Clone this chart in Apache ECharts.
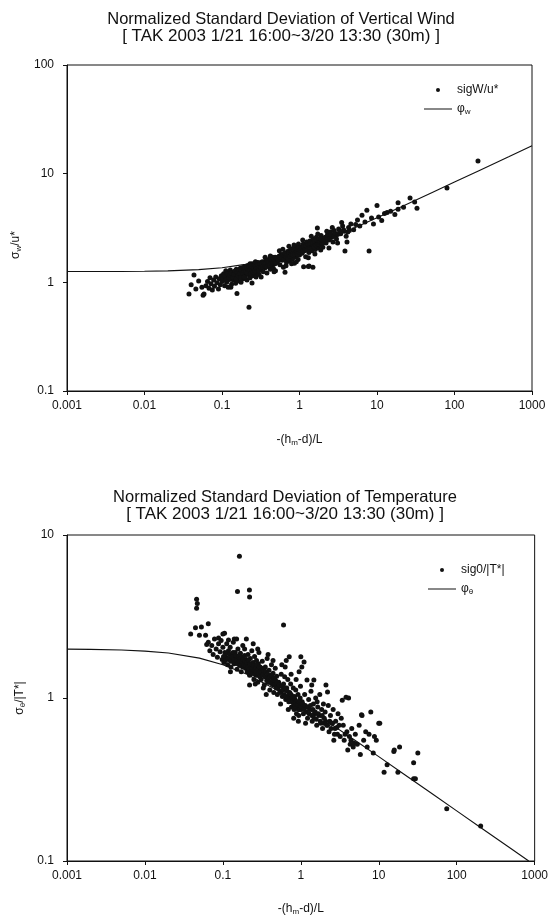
<!DOCTYPE html>
<html>
<head>
<meta charset="utf-8">
<script src="https://cdn.jsdelivr.net/npm/echarts@6/dist/echarts.min.js"></script>
<style>
html,body{margin:0;padding:0;background:#fff;}
#c{width:551px;height:919px;}
</style>
</head>
<body>
<div id="c"></div>
<script>
// ---- data ----
const xTicks = [0.001, 0.01, 0.1, 1, 10, 100, 1000];

// phi_w curve (top) sampled along x
const phiWX = [0.001,0.002,0.005,0.01,0.02,0.05,0.1,0.2,0.5,1,2,5,10,20,50,100,200,500,1000];
const phiWY = [1.26,1.26,1.26,1.265,1.275,1.31,1.364,1.462,1.697,1.984,2.391,3.15,3.927,4.921,6.656,8.377,10.55,14.31,18.03];

// phi_theta curve (bottom)
const phiTX = [0.001,0.002,0.005,0.01,0.02,0.05,0.1,0.2,0.5,1,2,5,10,20,50,100,200,500,840];
const phiTY = [1.994,1.988,1.969,1.94,1.887,1.757,1.601,1.403,1.116,0.913,0.737,0.549,0.437,0.347,0.256,0.203,0.161,0.119,0.100];

// sigW/u* scatter (top)
const sigW = [
[0.0375,0.78],[0.0435,1.17],[0.046,0.87],[0.0586,0.78],[0.05,1.03],[0.04,0.95],[0.055,0.9],[0.057,0.76],
[0.062,0.93],[0.065,1.02],[0.068,0.88],[0.07,1.1],[0.072,0.97],[0.075,0.85],[0.078,1.05],[0.08,0.92],
[0.083,1.12],[0.086,0.99],[0.09,0.87],[0.092,1.08],[0.095,0.95],[0.098,1.15],[0.1,1.02],
[0.105,1.2],[0.108,0.93],[0.11,1.08],[0.112,1.28],[0.115,1.0],[0.118,1.15],[0.12,0.9],[0.122,1.22],
[0.125,1.06],[0.128,1.3],[0.13,1.12],[0.133,0.96],[0.136,1.18],[0.14,1.05],[0.143,1.25],[0.146,1.1],
[0.15,0.98],[0.153,1.32],[0.156,1.16],[0.16,1.03],[0.164,1.22],[0.168,1.12],[0.172,1.35],[0.176,1.0],
[0.18,1.26],[0.184,1.15],[0.188,1.08],[0.192,1.38],[0.196,1.2],[0.2,1.12],[0.156,0.79],[0.13,0.9],
[0.244,0.985],[0.223,0.59],
[0.205,1.3],[0.21,1.05],[0.215,1.42],[0.22,1.18],[0.225,1.25],[0.23,1.1],[0.235,1.36],[0.24,1.22],
[0.245,1.48],[0.25,1.15],[0.255,1.3],[0.26,1.4],[0.265,1.2],[0.27,1.33],[0.275,1.12],[0.28,1.45],
[0.285,1.27],[0.29,1.52],[0.295,1.35],[0.3,1.18],[0.31,1.42],[0.32,1.3],[0.33,1.55],[0.34,1.25],
[0.35,1.46],[0.36,1.36],[0.37,1.6],[0.38,1.22],[0.39,1.5],[0.4,1.4],[0.41,1.65],[0.42,1.32],
[0.43,1.55],[0.44,1.45],[0.45,1.7],[0.46,1.35],[0.47,1.58],[0.48,1.48],[0.49,1.28],[0.5,1.62],
[0.32,1.12],[0.36,1.7],[0.27,1.55],[0.23,1.48],[0.42,1.75],[0.47,1.25],
[0.52,1.55],[0.54,1.72],[0.56,1.45],[0.58,1.8],[0.6,1.6],[0.62,1.38],[0.64,1.85],[0.66,1.66],
[0.68,1.52],[0.7,1.92],[0.72,1.7],[0.74,1.58],[0.76,1.98],[0.78,1.75],[0.8,1.62],[0.82,2.05],
[0.84,1.82],[0.86,1.5],[0.88,1.9],[0.9,1.72],[0.92,2.12],[0.94,1.85],[0.96,1.62],[0.98,2.0],
[1.0,1.78],[0.55,1.95],[0.61,2.02],[0.67,1.42],[0.73,2.15],[0.79,1.48],[0.85,2.2],[0.91,1.55],
[0.97,2.25],[0.63,1.7],[0.71,1.8],[0.83,1.68],[0.95,1.95],[0.65,1.24],
[1.04,2.1],[1.08,1.85],[1.12,2.25],[1.16,1.95],[1.2,1.72],[1.24,2.35],[1.28,2.05],[1.32,1.88],
[1.36,2.4],[1.4,2.15],[1.45,1.95],[1.5,2.5],[1.55,2.22],[1.6,2.0],[1.65,2.6],[1.7,2.3],
[1.75,2.08],[1.8,2.45],[1.85,2.2],[1.9,2.7],[1.95,2.35],[2.0,2.1],[1.1,2.45],[1.3,1.68],
[1.42,2.65],[1.58,1.82],[1.72,2.78],[1.88,1.98],[1.13,1.39],[1.33,1.41],[1.49,1.38],[1.3,1.4],[1.7,3.16],
[2.1,2.55],[2.2,2.3],[2.3,2.75],[2.4,2.45],[2.5,2.9],[2.6,2.6],[2.7,2.35],[2.8,3.0],[2.9,2.7],
[3.0,2.5],[3.2,3.1],[3.4,2.8],[3.6,3.3],[3.8,2.95],[4.0,2.65],[4.3,3.2],[4.6,3.45],[5.0,3.05],
[2.25,2.95],[2.65,3.2],[3.1,2.3],[3.5,3.55],[4.2,2.9],[3.86,1.94],[4.1,2.35],[2.4,2.07],
[5.3,3.4],[5.6,3.75],[6.0,3.3],[6.4,4.15],[7.0,3.6],[7.4,4.6],[7.9,1.94],[8.5,3.9],[9.0,3.45],
[10,5.1],[10.5,4.0],[11.5,3.7],[12.5,4.3],[13.5,4.4],[15,4.5],[17,4.2],[18.7,5.4],[18.7,4.7],
[22,4.9],[26.7,5.97],[30.6,5.5],[32.8,4.8],[80,7.4],[201,13.1],
// dense core of the band
[0.102,1.1],[0.107,1.15],[0.113,1.05],[0.117,1.2],[0.123,1.1],[0.127,1.17],[0.132,1.22],[0.138,1.12],
[0.142,1.18],[0.148,1.28],[0.152,1.08],[0.158,1.24],[0.162,1.15],[0.166,1.3],[0.17,1.2],[0.174,1.1],
[0.178,1.28],[0.182,1.36],[0.186,1.22],[0.19,1.3],[0.194,1.12],[0.198,1.34],
[0.202,1.25],[0.208,1.38],[0.212,1.22],[0.218,1.32],[0.224,1.4],[0.228,1.3],[0.233,1.2],[0.238,1.42],
[0.243,1.3],[0.248,1.38],[0.253,1.24],[0.258,1.34],[0.263,1.45],[0.268,1.28],[0.273,1.4],[0.278,1.34],
[0.283,1.5],[0.288,1.38],[0.293,1.44],[0.298,1.28],[0.305,1.5],[0.315,1.36],[0.325,1.46],[0.335,1.38],
[0.345,1.52],[0.355,1.42],[0.365,1.5],[0.375,1.4],[0.385,1.58],[0.395,1.45],[0.405,1.52],[0.415,1.44],
[0.425,1.62],[0.435,1.5],[0.445,1.58],[0.455,1.52],[0.465,1.65],[0.475,1.55],[0.485,1.7],[0.495,1.5],
[0.51,1.68],[0.53,1.6],[0.55,1.75],[0.57,1.62],[0.59,1.7],[0.61,1.78],[0.63,1.62],[0.65,1.82],
[0.67,1.72],[0.69,1.8],[0.71,1.65],[0.73,1.85],[0.75,1.75],[0.77,1.88],[0.79,1.8],[0.81,1.92],
[0.83,1.78],[0.85,1.95],[0.87,1.82],[0.89,2.0],[0.91,1.88],[0.93,1.95],[0.95,1.8],[0.97,2.08],[0.99,1.9],
[1.02,1.98],[1.06,2.05],[1.1,1.92],[1.14,2.12],[1.18,2.02],[1.22,2.18],[1.26,1.98],[1.3,2.22],
[1.34,2.1],[1.38,2.28],[1.43,2.05],[1.48,2.3],[1.53,2.12],[1.58,2.38],[1.63,2.2],[1.68,2.45],
[1.73,2.25],[1.78,2.52],[1.83,2.32],[1.9,2.5],[1.97,2.28],
[2.05,2.45],[2.15,2.6],[2.25,2.5],[2.35,2.68],[2.45,2.55],[2.55,2.75],[2.75,2.65],[2.85,2.85],
[3.1,2.75],[3.3,2.95],[3.7,3.05],[4.4,3.0]
];

// sig0/|T*| scatter (bottom)
const sigT = [
[0.163,7.4],[0.154,4.5],[0.219,4.6],[0.22,4.17],[0.046,4.04],[0.047,3.8],[0.046,3.55],[0.6,2.8],
[0.0386,2.47],[0.0445,2.7],[0.053,2.73],[0.065,2.85],[0.05,2.43],[0.06,2.43],[0.105,2.5],[0.1,2.47],
[0.14,2.3],[0.2,2.3],[0.088,2.33],[0.118,2.27],[0.245,2.15],[0.062,2.13],
[0.065,2.2],[0.068,1.95],[0.072,2.1],[0.075,1.85],[0.078,2.3],[0.082,2.0],[0.085,1.78],[0.088,2.15],
[0.092,1.92],[0.095,2.25],[0.098,1.72],[0.1,2.05],
[0.103,1.65],[0.106,1.9],[0.109,1.78],[0.112,2.15],[0.115,1.6],[0.118,1.95],[0.121,1.72],[0.124,2.05],
[0.127,1.55],[0.13,1.85],[0.133,1.68],[0.136,2.2],[0.14,1.62],[0.144,1.9],[0.148,1.75],[0.152,1.5],
[0.156,2.0],[0.16,1.7],[0.164,1.58],[0.168,1.88],[0.172,1.45],[0.176,1.78],[0.18,2.1],[0.185,1.62],
[0.19,1.82],[0.195,1.52],[0.2,1.72],[0.125,1.45],[0.15,2.3],[0.19,2.0],
[0.205,1.45],[0.21,1.85],[0.215,1.6],[0.22,1.38],[0.225,1.75],[0.23,1.52],[0.235,1.95],[0.24,1.42],
[0.245,1.65],[0.25,1.3],[0.255,1.8],[0.26,1.55],[0.265,1.38],[0.27,1.7],[0.275,1.48],[0.28,1.25],
[0.285,1.62],[0.29,1.9],[0.295,1.4],[0.3,1.55],[0.31,1.3],[0.32,1.68],[0.33,1.45],[0.34,1.2],
[0.35,1.55],[0.36,1.35],[0.37,1.75],[0.38,1.25],[0.39,1.48],[0.4,1.12],[0.41,1.38],[0.42,1.6],
[0.43,1.22],[0.44,1.42],[0.45,1.08],[0.46,1.3],[0.47,1.52],[0.48,1.18],[0.49,1.36],[0.5,1.05],
[0.22,1.2],[0.28,2.0],[0.33,1.15],[0.38,1.85],[0.44,1.7],[0.26,1.22],[0.36,1.05],
[0.52,1.25],[0.54,1.1],[0.56,1.4],[0.58,1.02],[0.6,1.22],[0.62,1.35],[0.64,0.98],[0.66,1.15],
[0.68,1.3],[0.7,0.95],[0.72,1.08],[0.74,1.22],[0.76,0.88],[0.78,1.02],[0.8,1.15],[0.82,0.85],
[0.84,0.98],[0.86,1.12],[0.88,0.8],[0.9,0.95],[0.92,1.05],[0.94,0.78],[0.96,0.9],[0.98,1.0],
[1.0,0.85],[0.55,0.92],[0.63,1.55],[0.69,0.85],[0.75,1.4],[0.81,0.75],[0.87,1.3],[0.93,0.72],
[0.99,1.18],[0.57,1.6],[0.71,1.79],[0.65,1.7],
[1.04,0.95],[1.08,0.8],[1.1,1.66],[1.03,1.55],[1.0,1.79],[0.95,1.45],[1.12,1.05],[1.16,0.88],
[1.2,1.29],[1.22,0.75],[1.26,0.98],[1.3,0.85],[1.35,1.1],[1.4,0.72],[1.45,0.92],[1.47,1.29],
[1.5,0.8],[1.55,1.0],[1.6,0.68],[1.65,0.88],[1.7,0.78],[1.75,1.05],[1.8,0.7],[1.85,0.85],
[1.9,0.65],[1.95,0.92],[2.0,0.75],[1.15,0.7],[1.38,1.2],[1.62,0.95],
[2.1,1.2],[2.05,0.82],[2.15,0.68],[2.25,0.9],[2.3,0.62],[2.4,0.78],[2.5,0.7],[2.6,0.85],
[2.7,0.6],[2.8,0.72],[2.9,0.66],[3.0,0.8],[3.2,0.58],[3.4,0.97],[3.5,0.68],[3.6,0.55],
[3.8,1.01],[3.9,0.62],[4.1,1.0],[4.3,0.52],[4.5,0.65],[4.7,0.5],[5.0,0.6],[2.2,1.09],
[2.65,0.55],[3.3,0.75],[4.0,0.48],
[5.3,0.52],[5.6,0.68],[6.0,0.79],[6.1,0.78],[6.4,0.55],[7.1,0.5],[7.5,0.6],[7.9,0.82],
[8.5,0.46],[9.3,0.55],[10,0.7],[10.3,0.7],[11.7,0.35],[12.8,0.39],[15.6,0.47],[15.8,0.48],
[17.6,0.35],[18.5,0.5],[28,0.32],[29.5,0.32],[28,0.40],[31.7,0.46],[74.5,0.209],[203,0.164],
[6.8,0.62],[8.8,0.58],[5.8,0.45],
// dense core of the band
[0.102,1.8],[0.108,1.7],[0.113,1.88],[0.117,1.75],[0.122,1.85],[0.126,1.68],[0.131,1.78],[0.135,1.9],
[0.139,1.72],[0.143,1.65],[0.147,1.82],[0.151,1.7],[0.155,1.62],[0.159,1.8],[0.163,1.68],[0.167,1.75],
[0.171,1.6],[0.175,1.68],[0.179,1.55],[0.183,1.72],[0.187,1.6],[0.193,1.68],[0.198,1.58],
[0.203,1.65],[0.208,1.55],[0.213,1.7],[0.218,1.5],[0.223,1.62],[0.228,1.45],[0.233,1.6],[0.238,1.52],
[0.243,1.42],[0.248,1.58],[0.253,1.48],[0.258,1.4],[0.263,1.55],[0.268,1.45],[0.273,1.6],[0.278,1.38],
[0.283,1.5],[0.288,1.42],[0.293,1.55],[0.298,1.35],[0.305,1.45],[0.315,1.52],[0.325,1.38],[0.335,1.48],
[0.345,1.35],[0.355,1.45],[0.365,1.28],[0.375,1.4],[0.385,1.32],[0.395,1.25],[0.405,1.35],[0.415,1.25],
[0.425,1.38],[0.435,1.3],[0.445,1.2],[0.455,1.32],[0.465,1.22],[0.475,1.28],[0.485,1.15],[0.495,1.25],
[0.51,1.15],[0.53,1.2],[0.55,1.08],[0.57,1.18],[0.59,1.12],[0.61,1.05],[0.63,1.15],[0.65,1.02],
[0.67,1.1],[0.69,1.0],[0.71,1.05],[0.73,0.98],[0.75,1.05],[0.77,0.95],[0.79,1.0],[0.81,0.92],
[0.83,1.02],[0.85,0.9],[0.87,0.95],[0.89,0.88],[0.91,0.92],[0.93,0.85],[0.95,0.95],[0.97,0.85],[0.99,0.9],
[1.02,0.88],[1.06,0.92],[1.1,0.85],[1.14,0.9],[1.18,0.82],[1.24,0.88],[1.28,0.8],[1.33,0.9],
[1.38,0.78],[1.43,0.85],[1.48,0.75],[1.53,0.82],[1.58,0.74],[1.68,0.8],[1.78,0.72],[1.88,0.78],[1.98,0.7],
[2.08,0.72],[2.2,0.68],[2.35,0.72],[2.45,0.65],[2.55,0.7],[2.75,0.65],[2.95,0.6],[3.1,0.68],
[3.7,0.6],[4.2,0.58],[4.4,0.55],[4.8,0.53]
];

// ---- chart ----
const INK = '#111';
const FONT = 'Liberation Sans, Arial, sans-serif';
const zip = (xs, ys) => xs.map((x, i) => [x, ys[i]]);

const rich = {
  g: { fontFamily: FONT, fontSize: 12, color: INK },
  s: { fontFamily: FONT, fontSize: 8, color: INK, verticalAlign: 'bottom', padding: [6, 0, 0, 0] }
};

function xAxis(gridIndex, gap) {
  return {
    type: 'log', logBase: 10, gridIndex, min: 0.001, max: 1000,
    name: '{g|-(h}{s|m}{g|-d)/L}', nameLocation: 'middle', nameGap: gap,
    nameTextStyle: { rich },
    axisLine: { show: true, onZero: false, lineStyle: { color: INK, width: 1 } },
    axisTick: { show: true, length: 4, lineStyle: { color: INK } },
    minorTick: { show: false },
    axisLabel: { color: INK, fontSize: 12, fontFamily: FONT, margin: 9,
      formatter: v => String(+v.toPrecision(6)) },
    splitLine: { show: false }
  };
}
function yAxis(gridIndex, min, max, nameRich, pad) {
  return {
    type: 'log', logBase: 10, gridIndex, min, max,
    name: nameRich, nameLocation: 'middle', nameGap: 33,
    nameTextStyle: { rich, padding: pad },
    axisLine: { show: true, lineStyle: { color: INK, width: 1 } },
    axisTick: { show: true, length: 4, lineStyle: { color: INK } },
    axisLabel: { color: INK, fontSize: 12, fontFamily: FONT, margin: 13,
      formatter: v => String(+v.toPrecision(6)) },
    splitLine: { show: false }
  };
}

function legendFmt(name) {
  if (name === 'φw') return '{g|φ}{s|w}';
  if (name === 'φθ') return '{g|φ}{s|θ}';
  return '{g|' + name + '}';
}
const titleStyle = (size) => ({ fontFamily: FONT, fontSize: size, fontWeight: 'normal', color: INK });
const LINE_ICON = 'path://M0,0H28V1H0Z';

const option = {
  backgroundColor: '#fff',
  animation: false,
  title: [
    { text: 'Normalized Standard Deviation of Vertical Wind', left: 281, top: 11, textAlign: 'center',
      textStyle: titleStyle(16.5), padding: 0 },
    { text: '[ TAK 2003 1/21 16:00~3/20 13:30 (30m) ]', left: 281, top: 28, textAlign: 'center',
      textStyle: titleStyle(17), padding: 0 },
    { text: 'Normalized Standard Deviation of Temperature', left: 285, top: 489, textAlign: 'center',
      textStyle: titleStyle(16.5), padding: 0 },
    { text: '[ TAK 2003 1/21 16:00~3/20 13:30 (30m) ]', left: 285, top: 506, textAlign: 'center',
      textStyle: titleStyle(17), padding: 0 }
  ],
  grid: [
    { left: 67, top: 65, width: 465, height: 326, show: true, borderColor: INK, borderWidth: 1 },
    { left: 67, top: 535, width: 469, height: 326, show: true, borderColor: INK, borderWidth: 1 }
  ],
  legend: [
    { data: [{ name: 'sigW/u*' }, { name: 'φw', icon: LINE_ICON }], orient: 'vertical', left: 424, top: 84, padding: 0,
      itemWidth: 28, itemHeight: 4, itemGap: 7, symbolKeepAspect: true, formatter: legendFmt,
      textStyle: { rich } },
    { data: [{ name: 'sig0/|T*|' }, { name: 'φθ', icon: LINE_ICON }], orient: 'vertical', left: 428, top: 564, padding: 0,
      itemWidth: 28, itemHeight: 4, itemGap: 7, symbolKeepAspect: true, formatter: legendFmt,
      textStyle: { rich } }
  ],
  xAxis: [xAxis(0, 42), xAxis(1, 41)],
  yAxis: [
    yAxis(0, 0.1, 100, '{g|σ}{s|w}{g|/u*}', [0, 34, 0, 0]),
    yAxis(1, 0.1, 10, '{g|σ}{s|θ}{g|/|T*|}', [0, 0, 0, 0])
  ],
  series: [
    { name: 'sigW/u*', type: 'scatter', xAxisIndex: 0, yAxisIndex: 0, data: sigW,
      symbol: 'circle', symbolSize: 5, itemStyle: { color: INK, opacity: 1 } },
    { name: 'φw', type: 'line', xAxisIndex: 0, yAxisIndex: 0, data: zip(phiWX, phiWY),
      symbol: 'none', showSymbol: false, smooth: false, lineStyle: { color: INK, width: 1.1 },
      itemStyle: { color: INK } },
    { name: 'sig0/|T*|', type: 'scatter', xAxisIndex: 1, yAxisIndex: 1, data: sigT,
      symbol: 'circle', symbolSize: 5, itemStyle: { color: INK, opacity: 1 } },
    { name: 'φθ', type: 'line', xAxisIndex: 1, yAxisIndex: 1, data: zip(phiTX, phiTY),
      symbol: 'none', showSymbol: false, smooth: false, lineStyle: { color: INK, width: 1.1 },
      itemStyle: { color: INK } }
  ]
};

const chart = echarts.init(document.getElementById('c'), null, { renderer: 'canvas' });
chart.setOption(option);
</script>
</body>
</html>
